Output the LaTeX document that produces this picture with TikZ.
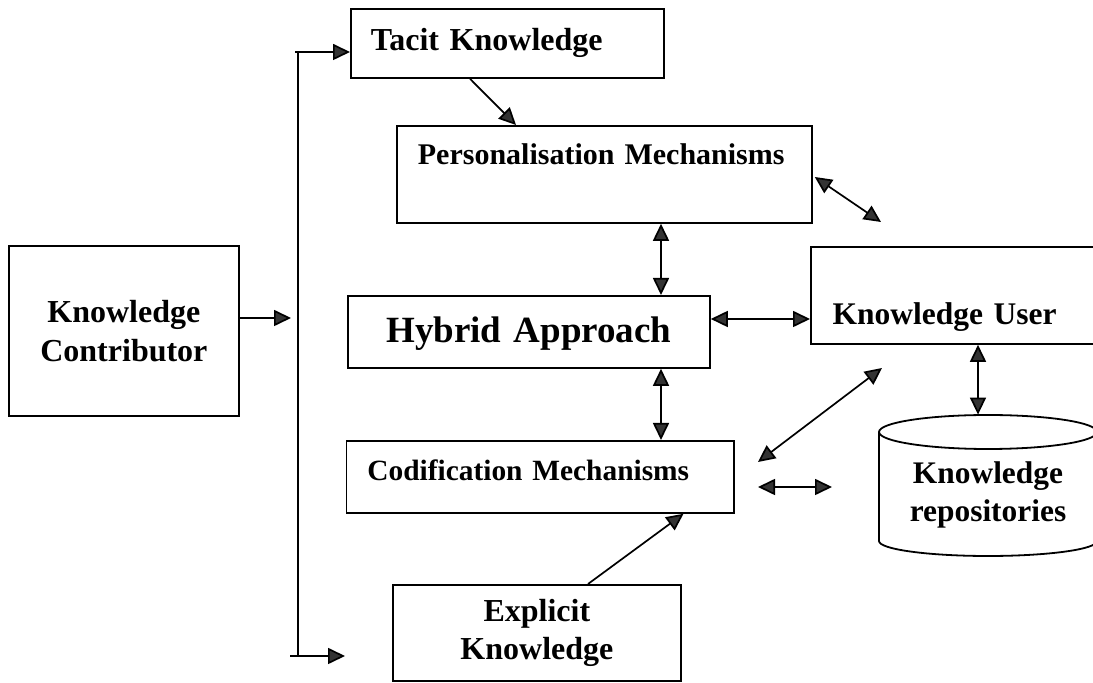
\documentclass[tikz,border=0pt]{standalone}
\usepackage{fontspec}
\setmainfont{Liberation Serif}
\usetikzlibrary{arrows.meta,calc}
\begin{document}
\begin{tikzpicture}[x=0.5pt,y=-0.5pt,
  box/.style={draw, line width=0.9pt, inner ysep=0pt, anchor=north west},
  fnt/.style={font=\bfseries\fontsize{#1}{19.5pt}\selectfont},
  line/.style={line width=0.85pt},
  arw/.style={line,-{Triangle[length=8.5pt,width=8pt,fill=black!80]}},
  darw/.style={line,{Triangle[length=8.5pt,width=8pt,fill=black!80]}-{Triangle[length=8.5pt,width=8pt,fill=black!80]}}]
\useasboundingbox (0,0) rectangle (1093,683);
\clip (0,0) rectangle (1093,683);

% boxes
\node[box, fnt=16pt, inner xsep=10pt, text width=136.5pt, align=left,
      text height=21pt, text depth=13.5pt] (tacit) at (350,8) {Tacit Knowledge};
\node[box, fnt=15pt, inner xsep=10.5pt, text width=186.5pt, align=left,
      text height=19.15pt, text depth=29.35pt] (pers) at (396,125) {Personalisation Mechanisms};
\node[box, fnt=18.5pt, inner xsep=0pt, text width=181pt, align=center,
      text height=23.35pt, text depth=12.65pt] (hyb) at (347,295) {Hybrid Approach};
\node[box, fnt=14.7pt, inner xsep=10.5pt, text width=172.75pt, align=left,
      text height=19.65pt, text depth=16.35pt] (cod) at (345.5,440) {Codification Mechanisms};
\node[box, fnt=15.75pt, inner xsep=10.85pt, text width=128.3pt, align=left,
      text height=38.65pt, text depth=9.85pt] (user) at (810,246) {Knowledge User};
\node[box, fnt=16pt, inner xsep=0pt, align=center, minimum width=115pt,
      minimum height=85pt] (contrib) at (8,245) {Knowledge\\Contributor};
\node[box, inner xsep=0pt, align=center, minimum width=144pt,
      minimum height=48pt, font=\bfseries\fontsize{16pt}{19pt}\selectfont] (expl) at (392,584) {Explicit\\Knowledge};

% repository cylinder
\node[align=center, inner sep=0pt, minimum width=109pt, minimum height=80pt,
      font=\bfseries\fontsize{15.7pt}{19pt}\selectfont] (repo) at (988,495) {Knowledge\\repositories};
\draw[line width=0.9pt] (879,432) -- (879,541)
  arc[start angle=180, end angle=0, x radius=109, y radius=15] -- (1097,432);
\draw[line width=0.9pt] (988,432) ellipse [x radius=109, y radius=17];

% helper coordinates
\coordinate (bt) at (298,52);
\coordinate (bb) at (298,656);
\coordinate (be) at (345,656);
\coordinate (ci) at (291,318);
\coordinate (pf) at (881,222);
\coordinate (da) at (882,368);
\coordinate (db) at (758,462);
\coordinate (ha) at (758,487);
\coordinate (hb) at (832,487);
\coordinate (vx) at (661,0);
\coordinate (ux) at (978,0);
\coordinate (hu) at (0,319);

% distribution line from the contributor
\draw[arw] (contrib.east |- ci) -- (ci);
\draw[line] (bb) -- (bt);
\draw[arw] ($(bt)+(-3,0)$) -- (tacit.west |- bt);
\draw[arw] ($(bb)+(-8,0)$) -- (be);

% connectors
\draw[arw] ($(tacit.south west)+(120,0)$) -- ($(pers.north west)+(120,0)$);
\draw[darw] ($(pers.north east)+(2,52)$) -- (pf);
\draw[darw] (pers.south -| vx) -- (hyb.north -| vx);
\draw[darw] (hyb.east |- hu) -- (user.west |- hu);
\draw[darw] (hyb.south -| vx) -- (cod.north -| vx);
\draw[darw] (user.south -| ux) -- (repo.north -| ux);
\draw[darw] (da) -- (db);
\draw[darw] (ha) -- (hb);
\draw[arw] ($(expl.north west)+(196,0)$) -- ($(cod.south west)+(338,0)$);
\end{tikzpicture}
\end{document}
